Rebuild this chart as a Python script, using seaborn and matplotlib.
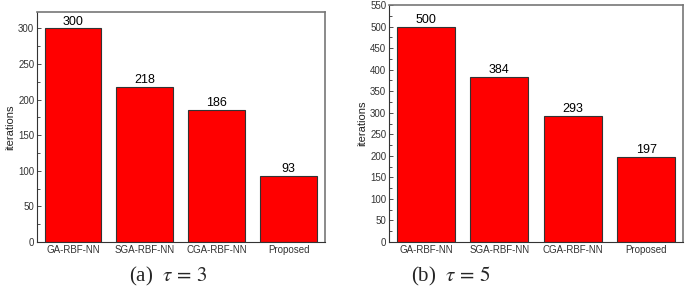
import matplotlib
matplotlib.use('Agg')
import matplotlib.pyplot as plt
from matplotlib.ticker import MultipleLocator, FixedLocator
import pandas as pd
import seaborn as sns

# data
methods = ["GA-RBF-NN", "SGA-RBF-NN", "CGA-RBF-NN", "Proposed"]
iters_tau3 = [300, 218, 186, 93]
iters_tau5 = [500, 384, 293, 197]
captions = ["(a)  $\\tau\\,=\\,3$", "(b)  $\\tau\\,=\\,5$"]

sns.set_theme(style="white")
plt.rcParams['font.family'] = ['Liberation Sans', 'DejaVu Sans']
plt.rcParams['mathtext.fontset'] = 'stix'

fig = plt.figure(figsize=(6.85, 2.9), dpi=100)
ax1 = fig.add_axes([0.054, 0.1655, 0.42, 0.793])
ax2 = fig.add_axes([0.568, 0.1655, 0.429, 0.817])

panels = [
    (ax1, iters_tau3, 323, 50, captions[0], 0.245, 0.03),
    (ax2, iters_tau5, 550, 50, captions[1], 0.658, 0.03),
]

for ax, vals, ytop, step, cap, cx, cy in panels:
    df = pd.DataFrame({"method": methods, "iterations": vals})
    sns.barplot(data=df, x="method", y="iterations", color="#ff0000",
                saturation=1, width=0.79, edgecolor="#333333", linewidth=0.8, ax=ax)
    ax.bar_label(ax.containers[0], fontsize=9, padding=0.5, color="black")
    ax.set_xlim(-0.5, 3.5)
    ax.set_ylim(0, ytop)
    ax.yaxis.set_major_locator(MultipleLocator(step))
    ax.yaxis.set_minor_locator(MultipleLocator(step / 2))
    ax.xaxis.set_minor_locator(FixedLocator([0.5, 1.5, 2.5]))
    ax.tick_params(axis="both", which="major", direction="in", length=3,
                   width=0.6, labelsize=7, color="#333333", labelcolor="#333333", pad=2)
    ax.tick_params(axis="both", which="minor", direction="in", length=1.8,
                   width=0.6, color="#333333")
    ax.tick_params(axis="x", which="both", top=False)
    ax.tick_params(axis="y", which="both", right=False, left=True)
    ax.set_xlabel("")
    ax.set_ylabel("iterations", fontsize=8, labelpad=2, color="#222222")
    for side in ["left", "bottom"]:
        ax.spines[side].set_color("#333333")
        ax.spines[side].set_linewidth(0.8)
    for side in ["top", "right"]:
        ax.spines[side].set_color("#777777")
        ax.spines[side].set_linewidth(1.2)
    fig.text(cx, cy, cap, fontsize=15, family="Liberation Serif",
             ha="center", va="baseline")

fig.savefig("out.png", dpi=100)
